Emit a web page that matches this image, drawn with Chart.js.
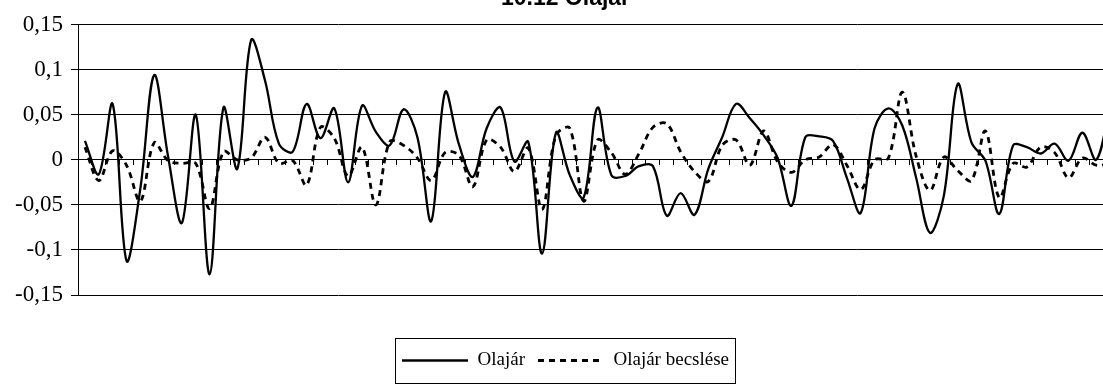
<!DOCTYPE html>
<html lang="hu">
<head>
<meta charset="utf-8">
<title>10.12 Olajár</title>
<script src="https://cdn.jsdelivr.net/npm/chart.js@4/dist/chart.umd.min.js"></script>
<style>
  html, body { margin: 0; padding: 0; background: #fff; overflow: hidden; }
  #wrap { position: absolute; left: 0; top: -20px; width: 1124px; height: 408px; }
</style>
</head>
<body>
<div id="wrap"><canvas id="chartOlaj" width="1124" height="408"></canvas></div>
<script>
    // idoszakok (a vizszintes tengelyen nincs felirat)
    const periods = Array.from({ length: 75 }, (_, i) => String(i + 1));

    const olajar = [
        0.021, -0.016, 0.062, -0.112, -0.032, 0.094, 0.004, -0.07, 0.05, -0.127,
        0.058, -0.01, 0.133, 0.088, 0.018, 0.009, 0.062, 0.024, 0.057, -0.025,
        0.06, 0.031, 0.016, 0.056, 0.025, -0.068, 0.075, 0.017, -0.019, 0.035,
        0.058, -0.002, 0.02, -0.104, 0.03, -0.017, -0.042, 0.058, -0.017, -0.018,
        -0.007, -0.007, -0.062, -0.037, -0.061, -0.01, 0.025, 0.062, 0.046, 0.027,
        0.002, -0.051, 0.025, 0.026, 0.021, -0.02, -0.059, 0.035, 0.057, 0.038,
        -0.02, -0.081, -0.04, 0.084, 0.019, -0.001, -0.06, 0.016, 0.014, 0.007,
        0.018, -0.001, 0.03, 0.0, 0.06
    ];

    const olajarBecsles = [
        0.014, -0.023, 0.01, -0.006, -0.046, 0.019, -0.001, -0.004, -0.004, -0.054,
        0.009, 0.0, 0.002, 0.025, -0.004, -0.001, -0.028, 0.036, 0.024, -0.018,
        0.014, -0.05, 0.02, 0.016, 0.002, -0.023, 0.008, 0.005, -0.03, 0.022,
        0.014, -0.013, 0.013, -0.055, 0.027, 0.035, -0.046, 0.022, 0.008, -0.016,
        0.007, 0.036, 0.04, 0.009, -0.013, -0.024, 0.016, 0.022, -0.006, 0.032,
        -0.002, -0.014, 0.0, 0.003, 0.017, -0.006, -0.033, 0.0, 0.002, 0.075,
        0.004, -0.034, 0.003, -0.012, -0.023, 0.032, -0.042, -0.004, -0.008, 0.014,
        0.008, -0.02, 0.002, -0.006, -0.004
    ];

    const yTickValues = [-0.15, -0.1, -0.05, 0, 0.05, 0.1, 0.15];
    const yTickLabels = ['-0,15', '-0,1', '-0,05', '0', '0,05', '0,1', '0,15'];

    // keret a jelmagyarazat kore
    const legendKeret = {
        id: 'legendKeret',
        afterDraw(chart) {
            const boxes = chart.legend && chart.legend.legendHitBoxes;
            if (!boxes || !boxes.length) return;
            const first = boxes[0];
            const last = boxes[boxes.length - 1];
            const mid = first.top + first.height / 2;
            const ctx = chart.ctx;
            ctx.save();
            ctx.strokeStyle = '#000';
            ctx.lineWidth = 1;
            ctx.setLineDash([]);
            const left = Math.round(first.left - 7) + 0.5;
            const right = Math.round(last.left + last.width + 6) + 0.5;
            const top = Math.round(mid - 23) + 0.5;
            ctx.strokeRect(left, top, right - left, 45);
            ctx.restore();
        }
    };

    // a jelmagyarazat vonalmintai a sorozatok szaggatasat kovetik
    function legendCimkek(chart) {
        const items = Chart.defaults.plugins.legend.labels.generateLabels(chart);
        items.forEach(item => {
            const ds = chart.data.datasets[item.datasetIndex];
            item.lineDash = ds.borderDash || [];
            item.lineWidth = ds.borderWidth;
            item.lineCap = 'butt';
        });
        return items;
    }

    const ctx = document.getElementById('chartOlaj');

    new Chart(ctx.getContext('2d'), {
        type: 'line',
        data: {
            labels: periods,
            datasets: [{
                label: 'Olajár',
                data: olajar,
                borderColor: '#000',
                backgroundColor: 'transparent',
                borderWidth: 2.3,
                pointRadius: 0,
                pointStyle: 'line',
                tension: 0.35
            }, {
                label: 'Olajár becslése',
                data: olajarBecsles,
                borderColor: '#000',
                backgroundColor: 'transparent',
                borderWidth: 2.8,
                borderDash: [6, 5],
                pointRadius: 0,
                pointStyle: 'line',
                tension: 0.35
            }]
        },
        options: {
            responsive: false,
            animation: false,
            devicePixelRatio: 1,
            layout: {
                padding: { left: 14, right: 7, top: 0, bottom: 8 }
            },
            plugins: {
                title: {
                    display: true,
                    text: '10.12 Olajár',
                    color: '#000',
                    font: { family: 'Liberation Sans', size: 23, weight: 'bold' },
                    padding: { top: 5, bottom: 12 }
                },
                legend: {
                    position: 'bottom',
                    labels: {
                        color: '#000',
                        usePointStyle: true,
                        pointStyle: 'line',
                        pointStyleWidth: 66,
                        padding: 13,
                        font: { family: 'Liberation Serif', size: 19 },
                        generateLabels: legendCimkek
                    }
                },
                tooltip: { enabled: false }
            },
            scales: {
                x: {
                    offset: true,
                    position: { y: 0 },
                    ticks: { display: false },
                    grid: {
                        offset: true,
                        drawOnChartArea: false,
                        drawTicks: true,
                        tickLength: 5,
                        color: '#000'
                    },
                    border: { color: '#000', width: 1 }
                },
                // ures sav a rajzterulet es a jelmagyarazat kozott
                xTer: {
                    type: 'category',
                    position: 'bottom',
                    ticks: { display: false },
                    grid: { display: false, drawTicks: false },
                    border: { display: false },
                    afterFit: function(scale) {
                        scale.height = 43;
                    }
                },
                y: {
                    min: -0.15,
                    max: 0.15,
                    ticks: {
                        stepSize: 0.05,
                        color: '#000',
                        padding: 8,
                        font: { family: 'Liberation Serif', size: 23 },
                        callback: function(value) {
                            const idx = yTickValues.findIndex(t => Math.abs(t - value) < 1e-9);
                            return idx >= 0 ? yTickLabels[idx] : '';
                        }
                    },
                    grid: { color: '#000', tickLength: 7, lineWidth: 1 },
                    border: { color: '#000', width: 1 },
                    afterFit: function(scale) {
                        scale.width = 64;
                    }
                }
            }
        },
        plugins: [legendKeret]
    });
</script>
</body>
</html>
